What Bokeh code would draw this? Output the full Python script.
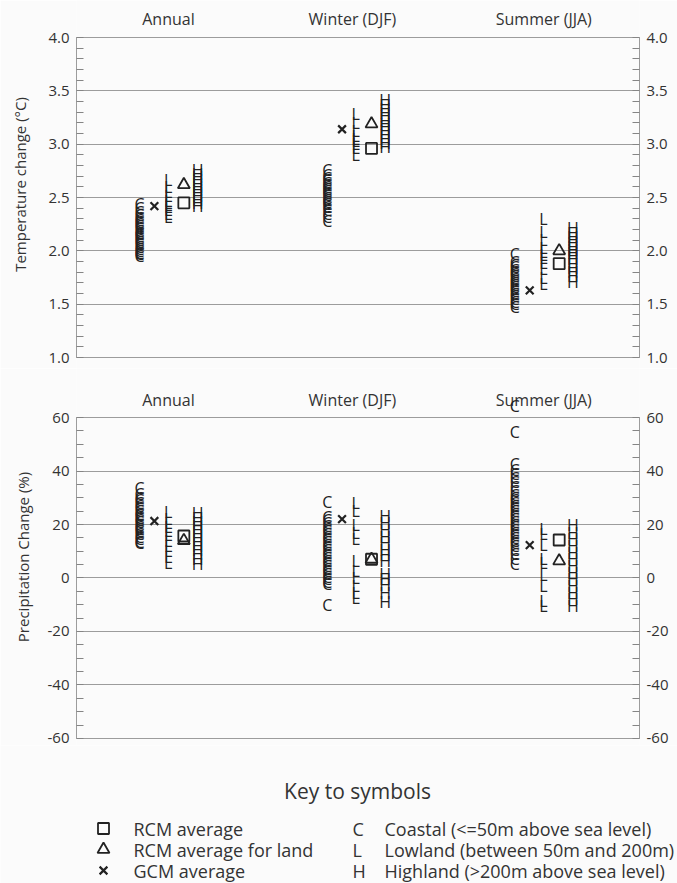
import numpy as np
from bokeh.plotting import figure
from bokeh.models import (LinearAxis, FixedTicker, NumeralTickFormatter,
                          ColumnDataSource, Range1d)
from bokeh.layouts import column
from bokeh.embed import file_html
from bokeh.resources import INLINE
from bokeh.core.properties import value

# ---------------- data ----------------
seasons = ["Annual", "Winter (DJF)", "Summer (JJA)"]

# Temperature change (°C) per season: Annual, Winter, Summer
temp_coastal = [
    [2.44, 2.40, 2.36, 2.34, 2.31, 2.29, 2.27, 2.25, 2.23, 2.21, 2.19, 2.17,
     2.16, 2.14, 2.12, 2.10, 2.08, 2.06, 2.04, 2.02, 2.00, 1.98, 1.97, 1.95],
    [2.76, 2.71, 2.68, 2.66, 2.64, 2.62, 2.60, 2.58, 2.56, 2.54, 2.52, 2.50,
     2.48, 2.46, 2.44, 2.41, 2.38, 2.35, 2.32, 2.28],
    [1.97, 1.90, 1.87, 1.85, 1.82, 1.80, 1.78, 1.76, 1.74, 1.72, 1.70, 1.68,
     1.66, 1.64, 1.62, 1.60, 1.58, 1.55, 1.52, 1.50, 1.47],
]
temp_lowland = [
    [2.66, 2.60, 2.55, 2.51, 2.47, 2.45, 2.43, 2.41, 2.38, 2.35, 2.32],
    [3.28, 3.20, 3.12, 3.08, 3.05, 3.03, 3.00, 2.96, 2.90],
    [2.30, 2.18, 2.10, 2.03, 1.99, 1.96, 1.93, 1.89, 1.83, 1.75, 1.69],
]
temp_highland = [
    [2.76, 2.72, 2.69, 2.66, 2.63, 2.60, 2.57, 2.54, 2.51, 2.48, 2.45, 2.42],
    [3.41, 3.37, 3.33, 3.29, 3.26, 3.22, 3.19, 3.16, 3.12, 3.09, 3.05, 3.01, 2.97],
    [2.21, 2.17, 2.13, 2.10, 2.07, 2.04, 2.01, 1.98, 1.95, 1.92, 1.88, 1.84,
     1.80, 1.76, 1.71],
]
temp_rcm = [2.45, 2.96, 1.88]
temp_rcm_land = [2.62, 3.19, 2.00]
temp_gcm = [2.42, 3.14, 1.63]

# Precipitation change (%)
precip_coastal = [
    [33.5, 31.5, 30.0, 29.0, 28.0, 27.0, 26.0, 25.0, 24.0, 23.5, 22.5, 21.5,
     21.0, 20.0, 19.0, 18.5, 17.5, 16.5, 15.5, 14.5, 13.5, 13.0],
    [28.4, 22.8, 21.5, 20.5, 19.5, 18.5, 17.5, 16.5, 15.5, 14.5, 13.5, 12.5,
     11.5, 10.5, 9.5, 8.5, 7.5, 6.5, 5.5, 4.5, 3.5, 2.5, 1.5, 0.5, -0.5,
     -1.5, -2.2, -10.0],
    [64.3, 54.6, 42.6, 40.5, 39.0, 37.5, 36.0, 34.0, 32.5, 31.0, 30.0, 29.0,
     28.0, 27.0, 26.0, 25.0, 24.0, 23.0, 22.0, 21.0, 20.0, 19.0, 18.0, 17.0,
     16.0, 15.0, 14.0, 13.0, 12.0, 10.5, 9.0, 7.0, 5.2],
]
precip_lowland = [
    [24.5, 22.0, 20.5, 19.0, 17.5, 16.0, 14.0, 12.0, 10.0, 8.0, 5.5],
    [28.0, 25.0, 20.0, 17.0, 14.5, 6.4, 2.5, 0.0, -3.0, -5.5, -7.5],
    [18.3, 16.5, 12.5, 7.0, 5.5, 1.0, -3.0, -8.5, -10.5],
]
precip_highland = [
    [24.3, 22.5, 21.0, 19.5, 18.0, 16.5, 15.0, 13.5, 12.0, 10.5, 9.0, 7.0, 5.2],
    [23.0, 20.5, 18.0, 15.5, 13.0, 10.5, 8.5, 6.5, 1.5, -0.5, -2.5, -5.5, -9.0],
    [19.8, 17.0, 14.5, 12.0, 9.5, 7.0, 4.5, 2.0, -0.5, -3.0, -5.5, -8.0, -10.5],
]
precip_rcm = [15.7, 7.0, 14.2]
precip_rcm_land = [14.0, 7.0, 6.4]
precip_gcm = [21.3, 22.0, 12.3]

temp_ticks = [1.0, 1.5, 2.0, 2.5, 3.0, 3.5, 4.0]
precip_ticks = [-60, -40, -20, 0, 20, 40, 60]

# ---------------- style ----------------
FONT = "Open Sans"
INK = "#222222"
TXT = "#333333"
GRID = "#9c9c9c"
BG = "#fbfbfb"
W = 677
OFF = {"C": 0.336, "X": 0.415, "L": 0.488, "M": 0.572, "H": 0.645}


def panel(height, yr, ticks, minor_step, fmt, title_y, ylabel, label_standoff,
          coastal, lowland, highland, rcm, rcm_land, gcm):
    p = figure(width=W, height=height, x_range=Range1d(0, 3), y_range=Range1d(*yr),
               output_backend="svg", toolbar_location=None, x_axis_location=None,
               min_border_left=76, min_border_right=38, min_border_top=0,
               min_border_bottom=0, background_fill_color=BG, border_fill_color=BG,
               outline_line_color=None)
    lo, hi = ticks[0], ticks[-1]
    minor = list(np.arange(lo, hi + minor_step / 2, minor_step))
    ticker = FixedTicker(ticks=ticks, minor_ticks=minor)
    right = LinearAxis()
    p.add_layout(right, "right")
    for ax in p.yaxis:
        ax.ticker = ticker
        ax.formatter = NumeralTickFormatter(format=fmt)
        ax.bounds = (lo, hi)
        ax.axis_line_color = GRID
        ax.major_tick_line_color = GRID
        ax.minor_tick_line_color = "#858585"
        ax.major_tick_in = 7
        ax.major_tick_out = 0
        ax.minor_tick_in = 7
        ax.minor_tick_out = 0
        ax.major_label_standoff = 7
        ax.major_label_text_font = FONT
        ax.major_label_text_font_size = "15px"
        ax.major_label_text_color = TXT
    left = p.yaxis[0]
    left.axis_label = ylabel
    left.axis_label_standoff = label_standoff
    left.axis_label_text_font = FONT
    left.axis_label_text_font_size = "15px"
    left.axis_label_text_font_style = "normal"
    left.axis_label_text_color = TXT
    for g in p.xgrid:
        g.visible = False
    for g in p.ygrid:
        g.ticker = ticker
        g.grid_line_color = GRID
        g.grid_line_width = 1

    # season titles
    p.text(x=[0.49, 1.47, 2.49], y=[title_y] * 3, text=seasons,
           text_font=value(FONT), text_font_size="16px", text_color=TXT,
           text_align="center", text_baseline="middle")

    xs, ys, ts = [], [], []
    for i in range(3):
        for letter, series in (("C", coastal), ("L", lowland), ("H", highland)):
            for v in series[i]:
                xs.append(i + OFF[letter])
                ys.append(v)
                ts.append(letter)
    src = ColumnDataSource(dict(x=xs, y=ys, t=ts))
    p.text(x="x", y="y", text="t", source=src, text_font=value(FONT),
           text_font_size="16px", text_color=INK, text_align="center",
           text_baseline="middle")

    gx = [i + OFF["X"] for i in range(3)]
    mx = [i + OFF["M"] for i in range(3)]
    p.scatter(gx, gcm, marker="x", size=11, line_width=2.2, line_color=INK)
    p.scatter(mx, rcm, marker="square", size=11, line_width=1.8,
              line_color=INK, fill_color=None)
    p.scatter(mx, rcm_land, marker="triangle", size=12, line_width=1.8,
              line_color=INK, fill_color=None)
    return p


p1 = panel(368, (0.897, 4.347), temp_ticks, 0.1, "0.0", 4.169,
           "Temperature change (°C)", 15,
           temp_coastal, temp_lowland, temp_highland,
           temp_rcm, temp_rcm_land, temp_gcm)
p2 = panel(377, (-62.62, 78.32), precip_ticks, 5, "0", 66.36,
           "Precipitation Change (%)", 12,
           precip_coastal, precip_lowland, precip_highland,
           precip_rcm, precip_rcm_land, precip_gcm)

# ---------------- key ----------------
key_title = "Key to symbols"
key_left = ["RCM average", "RCM average for land", "GCM average"]
key_left_markers = ["square", "triangle", "x"]
key_right_letters = ["C", "L", "H"]
key_right = ["Coastal (<=50m above sea level)",
             "Lowland (between 50m and 200m)",
             "Highland (>200m above sea level)"]

LH = 138
lg = figure(width=W, height=LH, x_range=Range1d(0, W), y_range=Range1d(LH, 0),
            output_backend="svg", toolbar_location=None, x_axis_location=None,
            y_axis_location=None, min_border=0, outline_line_color=None,
            background_fill_color=BG, border_fill_color=BG)
for g in lg.grid:
    g.visible = False
rows = [83, 104, 125]
lg.text(x=[357], y=[45], text=[key_title], text_font=value(FONT),
        text_font_size="21px", text_color=TXT, text_align="center",
        text_baseline="middle")
lg.text(x=[133] * 3, y=rows, text=key_left, text_font=value(FONT),
        text_font_size="18px", text_color=TXT, text_align="left",
        text_baseline="middle")
lg.text(x=[352] * 3, y=rows, text=key_right_letters, text_font=value(FONT),
        text_font_size="18px", text_color=TXT, text_align="left",
        text_baseline="middle")
lg.text(x=[384] * 3, y=rows, text=key_right, text_font=value(FONT),
        text_font_size="18px", text_color=TXT, text_align="left",
        text_baseline="middle")
for r, m in zip(rows, key_left_markers):
    kw = dict(fill_color=None) if m != "x" else {}
    lg.scatter([103], [r], marker=m, size=11 if m != "triangle" else 12,
               line_width=2.2 if m == "x" else 1.8, line_color=INK, **kw)

panels = column(p1, p2)
open("out.html", "w").write(file_html([panels, lg], INLINE))
